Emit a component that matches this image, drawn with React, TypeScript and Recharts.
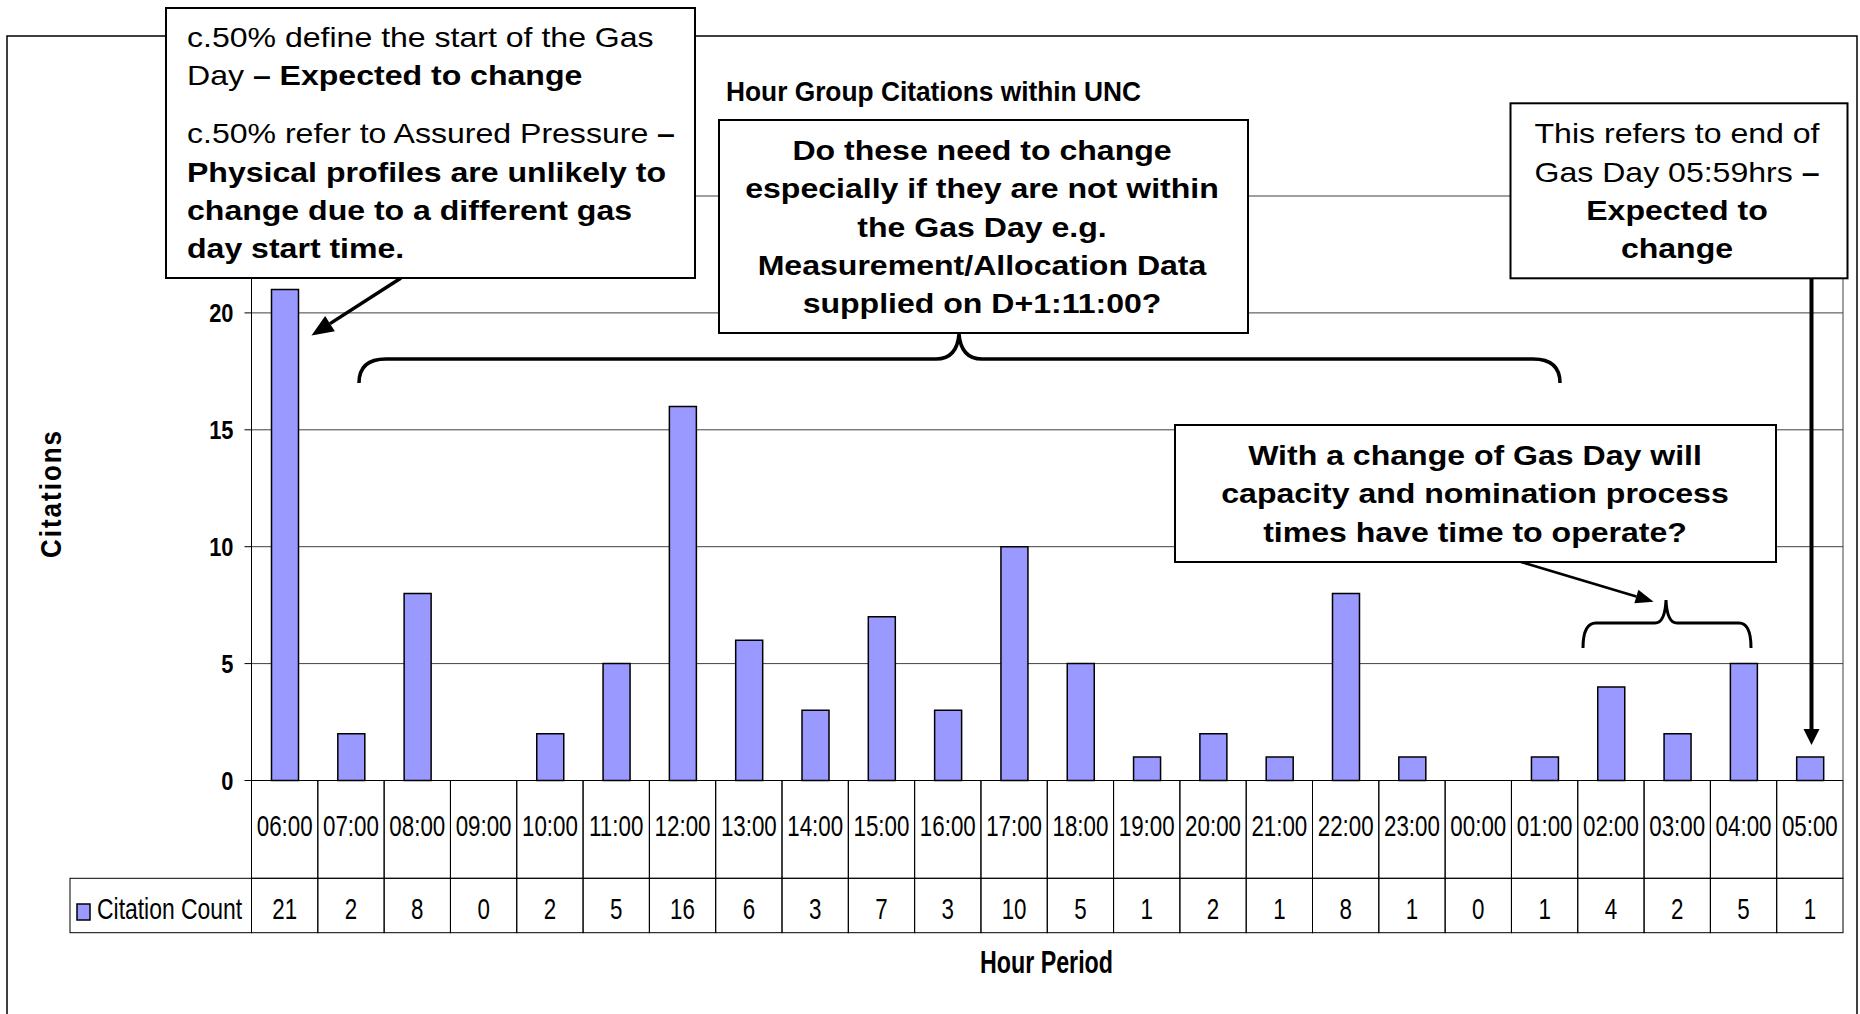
import React from 'react'
import { BarChart, Bar, XAxis, YAxis, CartesianGrid } from 'recharts'

// data
const hours = ['06:00', '07:00', '08:00', '09:00', '10:00', '11:00', '12:00', '13:00', '14:00', '15:00', '16:00', '17:00',
  '18:00', '19:00', '20:00', '21:00', '22:00', '23:00', '00:00', '01:00', '02:00', '03:00', '04:00', '05:00']
const citationCounts = [21, 2, 8, 0, 2, 5, 16, 6, 3, 7, 3, 10, 5, 1, 2, 1, 8, 1, 0, 1, 4, 2, 5, 1]
const yTicks = [0, 5, 10, 15, 20, 25]
const hiddenTickLabels = [25] // sits under the first callout box
const seriesName = 'Citation Count'
const chartTitle = 'Hour Group Citations within UNC'
const xTitle = 'Hour Period'
const yTitle = 'Citations'

// layout
const W = 1860
const H = 1014
const PLOT_L = 251.5
const PLOT_R = 1843
const PLOT_T = 196
const PLOT_B = 780.5
const TABLE_B = 932.7
const HEAD_H = 97.8
const BAND = (PLOT_R - PLOT_L) / hours.length
const FONT = "'Liberation Sans', Arial, Helvetica, sans-serif"
const BAR_FILL = '#9999FF'
const BOX_SX = 1.145

const data = hours.map((hour, i) => ({ hour, count: citationCounts[i] }))

type Seg = { t: string; b?: boolean }

function Line({ x, y, segs, anchor = 'start', sx = BOX_SX, size = 28 }: { x: number; y: number; segs: Seg[]; anchor?: string; sx?: number; size?: number }) {
  return (
    <text transform={`translate(${x},${y}) scale(${sx},1)`} textAnchor={anchor} fontFamily={FONT} fontSize={size} fill="#000" style={{ whiteSpace: 'pre' }}>
      {segs.map((s, i) => (
        <tspan key={i} fontWeight={s.b ? 'bold' : 'normal'}>{s.t}</tspan>
      ))}
    </text>
  )
}

function Arrow({ x1, y1, x2, y2, w, len, hw }: { x1: number; y1: number; x2: number; y2: number; w: number; len: number; hw: number }) {
  const a = Math.atan2(y2 - y1, x2 - x1)
  const bx = x2 - len * Math.cos(a)
  const by = y2 - len * Math.sin(a)
  const px = -Math.sin(a) * hw / 2
  const py = Math.cos(a) * hw / 2
  return (
    <g>
      <line x1={x1} y1={y1} x2={bx} y2={by} stroke="#000" strokeWidth={w} />
      <polygon points={`${x2},${y2} ${bx + px},${by + py} ${bx - px},${by - py}`} fill="#000" />
    </g>
  )
}

function YTick({ x, y, payload }: any) {
  if (hiddenTickLabels.includes(payload.value)) return <g />
  return (
    <text transform={`translate(${x},${y}) scale(0.84,1)`} textAnchor="end" dy="0.36em" fontFamily={FONT} fontWeight="bold" fontSize={26} fill="#000">
      {payload.value}
    </text>
  )
}

function HourTick({ x, y, payload, index }: any) {
  const i = payload?.index ?? index
  const left = x - BAND / 2
  return (
    <g>
      <rect x={left} y={y} width={BAND} height={HEAD_H} fill="none" stroke="#000" strokeWidth={1} />
      <rect x={left} y={y + HEAD_H} width={BAND} height={TABLE_B - PLOT_B - HEAD_H} fill="none" stroke="#000" strokeWidth={1} />
      <text transform={`translate(${x},${y + 55}) scale(0.77,1)`} textAnchor="middle" fontFamily={FONT} fontSize={29} fill="#000">
        {payload.value}
      </text>
      <text transform={`translate(${x},${y + 138}) scale(0.77,1)`} textAnchor="middle" fontFamily={FONT} fontSize={29} fill="#000">
        {citationCounts[i]}
      </text>
    </g>
  )
}

export default function App() {
  return (
    <div style={{ position: 'absolute', left: 0, top: 0, width: W, height: H, background: '#fff', overflow: 'hidden' }}>
      <BarChart width={W} height={H} data={data} margin={{ top: PLOT_T, right: W - PLOT_R, bottom: H - TABLE_B, left: 0 }}>
        <CartesianGrid vertical={false} stroke="#404040" strokeWidth={1} />
        <YAxis
          domain={[0, 25]}
          ticks={yTicks}
          interval={0}
          width={PLOT_L}
          tickSize={7}
          tickMargin={11}
          axisLine={{ stroke: '#000', strokeWidth: 1 }}
          tickLine={{ stroke: '#000', strokeWidth: 1 }}
          tick={<YTick />}
        />
        <XAxis
          dataKey="hour"
          interval={0}
          height={TABLE_B - PLOT_B}
          tickSize={0}
          tickMargin={0}
          tickLine={false}
          axisLine={{ stroke: '#000', strokeWidth: 1 }}
          tick={<HourTick />}
        />
        <Bar dataKey="count" name={seriesName} fill={BAR_FILL} stroke="#000" strokeWidth={1.5} barSize={27} isAnimationActive={false} />
      </BarChart>

      <svg width={W} height={H} style={{ position: 'absolute', left: 0, top: 0, pointerEvents: 'none' }}>
        {/* chart area border and plot right edge */}
        <rect x={7} y={36} width={1850} height={1100} fill="none" stroke="#000" strokeWidth={1.5} />
        <line x1={PLOT_R} y1={PLOT_T} x2={PLOT_R} y2={PLOT_B} stroke="#404040" strokeWidth={1} />

        {/* data table legend cell */}
        <rect x={70} y={PLOT_B + HEAD_H} width={PLOT_L - 70} height={TABLE_B - PLOT_B - HEAD_H} fill="none" stroke="#000" strokeWidth={1} />
        <rect x={77} y={904} width={13} height={16} fill={BAR_FILL} stroke="#000" strokeWidth={1.5} />
        <text transform="translate(97,919.3) scale(0.79,1)" fontFamily={FONT} fontSize={29} fill="#000">{seriesName}</text>

        {/* titles */}
        <text transform="translate(726,100.5) scale(0.94,1)" fontFamily={FONT} fontWeight="bold" fontSize={28} fill="#000">{chartTitle}</text>
        <text transform="translate(1046.5,972.7) scale(0.75,1)" textAnchor="middle" fontFamily={FONT} fontWeight="bold" fontSize={31} fill="#000">{xTitle}</text>
        <text transform="translate(61,493.5) rotate(-90) scale(1,1.15)" textAnchor="middle" fontFamily={FONT} fontWeight="bold" fontSize={26} letterSpacing={2} fill="#000">{yTitle}</text>

        {/* braces */}
        <path d="M359,383 Q359,359 386,359 L936,359 Q957,359 959,334 Q961,359 982,359 L1533,359 Q1560,359 1560,383" fill="none" stroke="#000" strokeWidth={3.5} />
        <path d="M1583,648 Q1583,623 1596,623 L1655,623 Q1665,623 1666,600 Q1667,623 1677,623 L1739,623 Q1751,623 1751,648" fill="none" stroke="#000" strokeWidth={3} />

        {/* arrows */}
        <Arrow x1={401} y1={278} x2={311.5} y2={335.5} w={3.5} len={22} hw={18} />
        <Arrow x1={1811.5} y1={278} x2={1811.5} y2={745} w={4} len={16} hw={16} />
        <Arrow x1={1521} y1={562} x2={1653.6} y2={601.7} w={2.5} len={18} hw={14} />

        {/* box A */}
        <rect x={166} y={8} width={529} height={270} fill="#fff" stroke="#000" strokeWidth={2} />
        <Line x={187} y={46.7} segs={[{ t: 'c.50% define the start of the Gas' }]} />
        <Line x={187} y={85} segs={[{ t: 'Day ' }, { t: '– Expected to change', b: true }]} />
        <Line x={187} y={143} segs={[{ t: 'c.50% refer to Assured Pressure ' }, { t: '–', b: true }]} />
        <Line x={187} y={182} segs={[{ t: 'Physical profiles are unlikely to', b: true }]} />
        <Line x={187} y={220} segs={[{ t: 'change due to a different gas', b: true }]} />
        <Line x={187} y={258} segs={[{ t: 'day start time.', b: true }]} />

        {/* box B */}
        <rect x={719} y={120} width={529} height={213} fill="#fff" stroke="#000" strokeWidth={2} />
        <Line x={982} y={160} anchor="middle" segs={[{ t: 'Do these need to change', b: true }]} />
        <Line x={982} y={198.3} anchor="middle" segs={[{ t: 'especially if they are not within', b: true }]} />
        <Line x={982} y={236.7} anchor="middle" segs={[{ t: 'the Gas Day e.g.', b: true }]} />
        <Line x={982} y={275} anchor="middle" segs={[{ t: 'Measurement/Allocation Data', b: true }]} />
        <Line x={982} y={313.3} anchor="middle" segs={[{ t: 'supplied on D+1:11:00?', b: true }]} />

        {/* box C */}
        <rect x={1510.5} y={103.3} width={337} height={175} fill="#fff" stroke="#000" strokeWidth={2} />
        <Line x={1677} y={142.5} anchor="middle" segs={[{ t: 'This refers to end of' }]} />
        <Line x={1677} y={181.5} anchor="middle" segs={[{ t: 'Gas Day 05:59hrs ' }, { t: '–', b: true }]} />
        <Line x={1677} y={220} anchor="middle" segs={[{ t: 'Expected to', b: true }]} />
        <Line x={1677} y={258} anchor="middle" segs={[{ t: 'change', b: true }]} />

        {/* box D */}
        <rect x={1175} y={425} width={601} height={137} fill="#fff" stroke="#000" strokeWidth={2} />
        <Line x={1475} y={465} anchor="middle" segs={[{ t: 'With a change of Gas Day will', b: true }]} />
        <Line x={1475} y={503.3} anchor="middle" segs={[{ t: 'capacity and nomination process', b: true }]} />
        <Line x={1475} y={541.7} anchor="middle" segs={[{ t: 'times have time to operate?', b: true }]} />
      </svg>
    </div>
  )
}
